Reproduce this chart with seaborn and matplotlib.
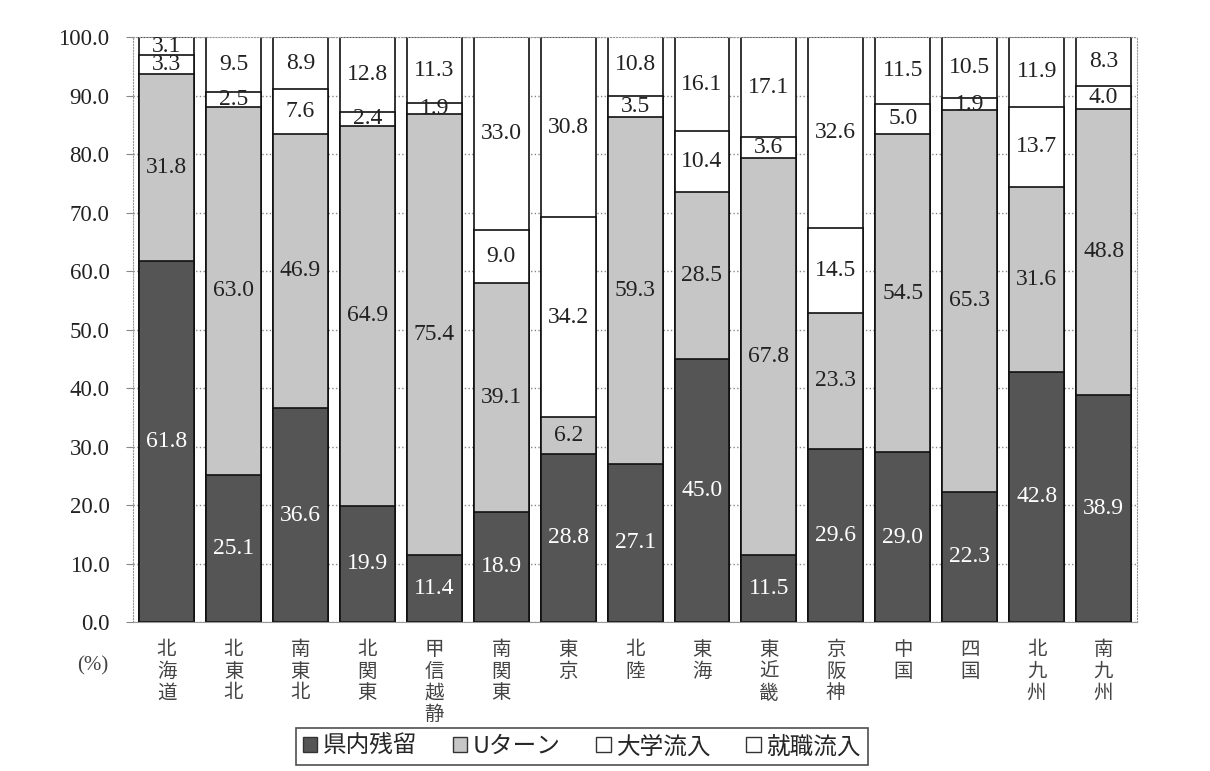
import pandas as pd
import numpy as np
import matplotlib
matplotlib.use('Agg')
import matplotlib.pyplot as plt
from matplotlib.patches import Patch
import seaborn as sns

regions = ['北海道', '北東北', '南東北', '北関東', '甲信越静', '南関東', '東京', '北陸',
           '東海', '東近畿', '京阪神', '中国', '四国', '北九州', '南九州']
kennai = [61.8, 25.1, 36.6, 19.9, 11.4, 18.9, 28.8, 27.1, 45.0, 11.5, 29.6, 29.0, 22.3, 42.8, 38.9]
uturn = [31.8, 63.0, 46.9, 64.9, 75.4, 39.1, 6.2, 59.3, 28.5, 67.8, 23.3, 54.5, 65.3, 31.6, 48.8]
daigaku = [3.3, 2.5, 7.6, 2.4, 1.9, 9.0, 34.2, 3.5, 10.4, 3.6, 14.5, 5.0, 1.9, 13.7, 4.0]
shushoku = [3.1, 9.5, 8.9, 12.8, 11.3, 33.0, 30.8, 10.8, 16.1, 17.1, 32.6, 11.5, 10.5, 11.9, 8.3]
series_names = ['県内残留', 'Uターン', '大学流入', '就職流入']
colors = ['#555555', '#c6c6c6', 'white', 'white']
text_colors = ['white', '#222222', '#222222', '#222222']

sns.set_style('white')
plt.rcParams['font.family'] = ['Liberation Serif', 'Noto Sans CJK JP']

df = pd.DataFrame({'region': regions, '県内残留': kennai, 'Uターン': uturn,
                   '大学流入': daigaku, '就職流入': shushoku})
cum = df[series_names].cumsum(axis=1)

fig, ax = plt.subplots(figsize=(12.1, 7.71), dpi=100)
fig.subplots_adjust(left=0.110, right=0.9397, top=0.952, bottom=0.193)

# draw cumulative totals from top down so the bars stack
for i in range(len(series_names) - 1, -1, -1):
    tmp = pd.DataFrame({'region': regions, 'val': cum[series_names[i]]})
    sns.barplot(data=tmp, x='region', y='val', color=colors[i], edgecolor='#111111',
                linewidth=1.2, width=0.82, saturation=1, ax=ax, zorder=2)

# value labels
for i, name in enumerate(series_names):
    for j in range(len(regions)):
        v = df[name][j]
        mid = cum[name][j] - v / 2
        ax.text(j, mid, f'{v:.1f}', ha='center', va='center', fontsize=17,
                color=text_colors[i], zorder=5, family='Liberation Serif')

ax.set_ylim(0, 100)
ax.set_xlim(-0.5, len(regions) - 0.5)
ax.set_yticks(np.arange(0, 101, 10))
ax.set_yticklabels([f'{t:.1f}' for t in np.arange(0, 101, 10)], fontsize=16.5, color='#222222')
ax.yaxis.grid(True, linestyle=':', color='#888888', linewidth=1, zorder=0)
ax.set_axisbelow(True)
ax.set_xlabel('')
ax.set_ylabel('')
ax.set_xticks(range(len(regions)))
ax.set_xticklabels(['\n'.join(r) for r in regions], fontsize=14, family='Noto Sans CJK JP',
                   linespacing=1.05, va='top', color='#444444')
ax.tick_params(axis='x', length=0, pad=12)
ax.tick_params(axis='y', length=5, color='#888888', left=True, pad=12)
for s in ax.spines.values():
    s.set_color('#999999')
    s.set_linestyle(':')
ax.spines['bottom'].set_linestyle('-')

fig.text(0.064, 0.137, '(%)', fontsize=15, color='#444444', family='Liberation Serif',
         va='center')

handles = [Patch(facecolor=colors[i], edgecolor='#333333', label=series_names[i]) for i in range(4)]
leg = fig.legend(handles=handles, loc='lower center', bbox_to_anchor=(0.481, -0.008), ncol=4,
                 frameon=True, fancybox=False, edgecolor='#222222',
                 handlelength=0.6, handleheight=0.6, handletextpad=0.25, columnspacing=1.5,
                 borderpad=0.3, prop={'family': 'Noto Sans CJK JP', 'size': 17})
leg.get_frame().set_linewidth(1.2)

fig.savefig('out.png', dpi=100)
